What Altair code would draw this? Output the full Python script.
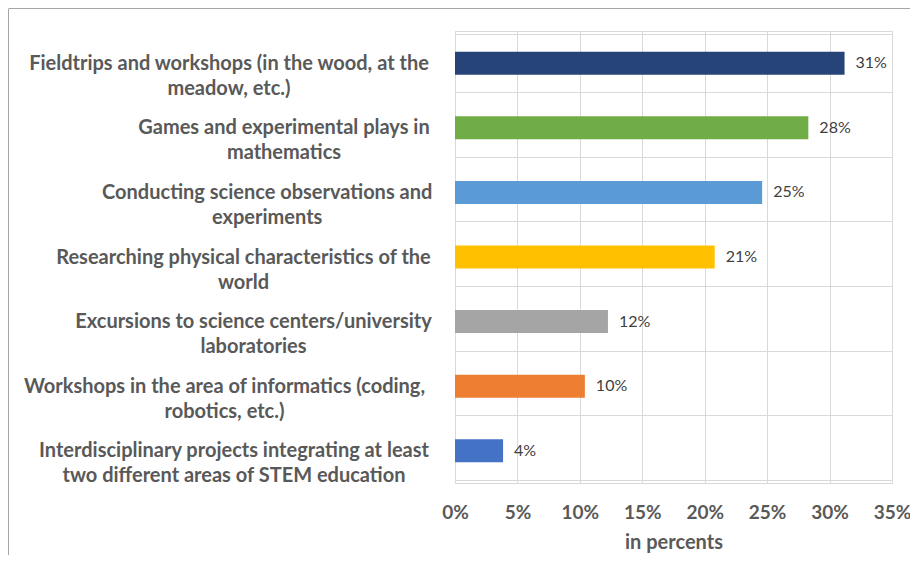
import altair as alt
import pandas as pd

# ---- data ----
categories = [
    "Fieldtrips and workshops (in the wood, at the\nmeadow, etc.)",
    "Games and experimental plays in\nmathematics",
    "Conducting science observations and\nexperiments",
    "Researching physical characteristics of the\nworld",
    "Excursions to science centers/university\nlaboratories",
    "Workshops in the area of informatics (coding,\nrobotics, etc.)",
    "Interdisciplinary projects integrating at least\ntwo different areas of STEM education",
]
values = [0.312, 0.283, 0.246, 0.208, 0.1225, 0.104, 0.0385]
value_labels = ["31%", "28%", "25%", "21%", "12%", "10%", "4%"]
x_ticks = [0, 0.05, 0.10, 0.15, 0.20, 0.25, 0.30, 0.35]

# ---- styles ----
colors = ["#264478", "#70AD47", "#5B9BD5", "#FFC000", "#A5A5A5", "#ED7D31", "#4472C4"]
# distance from axis to the centre of each (centre-aligned) multi-line label
label_centre_offsets = [226.5, 171.5, 188.3, 212, 202, 231, 221.5]

df = pd.DataFrame({"category": categories, "value": values, "label": value_labels})

FONT = "Lato"
LABEL_COLOR = "#595959"
BIG = 20

pad_cond = [
    {"test": "datum.value == " + repr(c), "value": off}
    for c, off in zip(categories, label_centre_offsets)
]

y_enc = alt.Y(
    "category:N",
    sort=None,
    scale=alt.Scale(domain=categories),
    axis=alt.Axis(
        title=None,
        grid=True,
        gridColor="#d9d9d9",
        gridWidth=1,
        tickBand="extent",
        domain=False,
        ticks=False,
        labelAlign="center",
        labelBaseline="middle",
        labelPadding={"condition": pad_cond, "value": 200},
        labelExpr="split(datum.label, '\\n')",
        labelFont=FONT,
        labelFontSize=BIG,
        labelFontWeight="bold",
        labelColor=LABEL_COLOR,
        labelLineHeight=25,
        labelLimit=600,
    ),
)

x_enc = alt.X(
    "value:Q",
    scale=alt.Scale(domain=[0, 0.35], nice=False),
    axis=alt.Axis(
        values=x_ticks,
        format=".0%",
        title="in percents",
        grid=True,
        gridColor="#d9d9d9",
        domain=False,
        ticks=False,
        labelFlush=False,
        labelPadding=20,
        labelFont=FONT,
        labelFontSize=19,
        labelFontWeight="bold",
        labelColor=LABEL_COLOR,
        titleFont=FONT,
        titleFontSize=BIG,
        titleFontWeight="bold",
        titleColor=LABEL_COLOR,
        titlePadding=10,
    ),
)

bars = alt.Chart(df).mark_bar(size=23).encode(
    y=y_enc,
    x=x_enc,
    color=alt.Color("category:N", scale=alt.Scale(domain=categories, range=colors), legend=None),
)

texts = alt.Chart(df).mark_text(
    align="left", baseline="middle", dx=11, font=FONT, fontSize=16, color="#404040"
).encode(
    y=alt.Y("category:N", sort=None, scale=alt.Scale(domain=categories)),
    x=alt.X("value:Q"),
    text="label:N",
)

border_data = alt.Data(values=[{"k": 1}])
border_left = alt.Chart(border_data).mark_rule(color="#a6a6a6", strokeWidth=1).encode(
    x=alt.value(-446.5), y=alt.value(-22), y2=alt.value(540)
)
border_top = alt.Chart(border_data).mark_rule(color="#a6a6a6", strokeWidth=1).encode(
    x=alt.value(-446.5), x2=alt.value(470), y=alt.value(-22.5)
)

chart = (
    alt.layer(bars, texts, border_left, border_top)
    .properties(
        width=437,
        height=452,
        padding={"left": 447, "top": 23, "right": 18, "bottom": 72},
        autosize=alt.AutoSizeParams(type="none"),
        background="white",
    )
    .configure_view(stroke="#d9d9d9", strokeWidth=1)
)

chart.save("out.html", embed_options={"renderer": "svg", "actions": False})
